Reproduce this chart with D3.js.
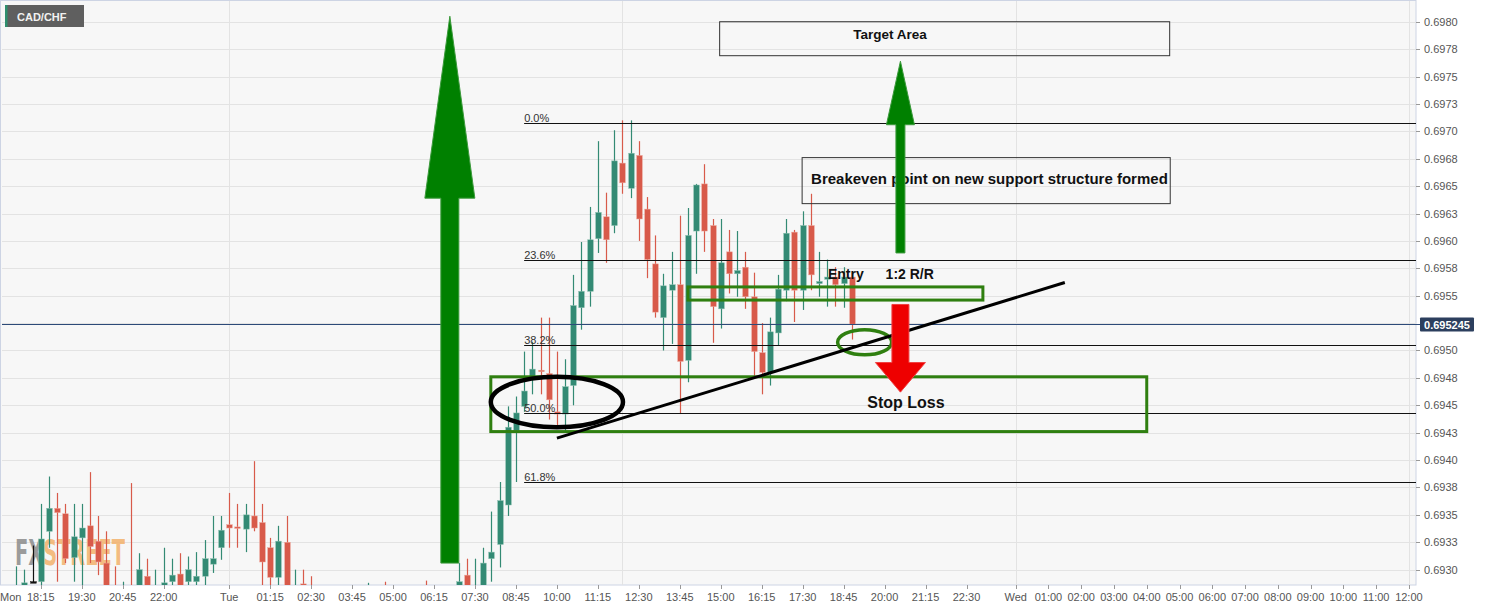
<!DOCTYPE html>
<html><head><meta charset="utf-8">
<script src="https://cdn.jsdelivr.net/npm/d3@7"></script>
<style>
body{margin:0;background:#fff;}
svg{display:block;font-family:"Liberation Sans",Arial,Helvetica,sans-serif;}
</style>
</head><body>
<svg id="chart" width="1493" height="610"></svg>
<script>
// ---------------- DATA ----------------
const candleTimes = [
 "2021-06-07 17:30","2021-06-07 17:45","2021-06-07 18:00","2021-06-07 18:15","2021-06-07 18:30","2021-06-07 18:45",
 "2021-06-07 19:00","2021-06-07 19:15","2021-06-07 19:30","2021-06-07 19:45","2021-06-07 20:00","2021-06-07 20:15",
 "2021-06-07 20:30","2021-06-07 20:45","2021-06-07 21:00","2021-06-07 21:15","2021-06-07 21:30","2021-06-07 21:45",
 "2021-06-07 22:00","2021-06-07 22:15","2021-06-07 22:30","2021-06-07 22:45","2021-06-07 23:00","2021-06-07 23:15",
 "2021-06-07 23:30","2021-06-07 23:45",
 "2021-06-08 00:00","2021-06-08 00:15","2021-06-08 00:30","2021-06-08 00:45","2021-06-08 01:00","2021-06-08 01:15",
 "2021-06-08 01:30","2021-06-08 01:45","2021-06-08 02:00","2021-06-08 02:15","2021-06-08 02:30",
 "2021-06-08 04:15","2021-06-08 04:45","2021-06-08 06:00",
 "2021-06-08 07:00","2021-06-08 07:15","2021-06-08 07:30","2021-06-08 07:45","2021-06-08 08:00","2021-06-08 08:15",
 "2021-06-08 08:30","2021-06-08 08:45","2021-06-08 09:00","2021-06-08 09:15","2021-06-08 09:30","2021-06-08 09:45",
 "2021-06-08 10:00","2021-06-08 10:15","2021-06-08 10:30","2021-06-08 10:45","2021-06-08 11:00","2021-06-08 11:15",
 "2021-06-08 11:30","2021-06-08 11:45","2021-06-08 12:00","2021-06-08 12:15","2021-06-08 12:30","2021-06-08 12:45",
 "2021-06-08 13:00","2021-06-08 13:15","2021-06-08 13:30","2021-06-08 13:45","2021-06-08 14:00","2021-06-08 14:15",
 "2021-06-08 14:30","2021-06-08 14:45","2021-06-08 15:00","2021-06-08 15:15","2021-06-08 15:30","2021-06-08 15:45",
 "2021-06-08 16:00","2021-06-08 16:15","2021-06-08 16:30","2021-06-08 16:45","2021-06-08 17:00","2021-06-08 17:15",
 "2021-06-08 17:30","2021-06-08 17:45","2021-06-08 18:00","2021-06-08 18:15","2021-06-08 18:30","2021-06-08 18:45",
 "2021-06-08 19:00"
];
const openV = [
 0.69273,0.69280,0.69289,0.69289,0.69335,0.69356,
 0.69351,0.69311,0.69329,0.69340,0.69326,0.69306,
 0.69282,0.69275,0.69282,0.69280,0.69294,0.69275,
 0.69284,0.69289,0.69296,0.69289,0.69289,0.69294,
 0.69305,0.69320,
 0.69341,0.69339,0.69337,0.69349,0.69343,0.69320,
 0.69293,0.69325,0.69275,0.69287,0.69282,
 0.69275,0.69282,0.69282,
 0.69280,0.69295,0.69275,0.69280,0.69310,0.69323,
 0.69359,0.69427,0.69449,0.69476,0.69482,0.69479,
 0.69444,0.69442,0.69468,0.69539,0.69554,0.69602,
 0.69622,0.69614,0.69671,0.69648,0.69678,0.69629,
 0.69579,0.69530,0.69555,0.69560,0.69491,0.69609,
 0.69652,0.69614,0.69538,0.69590,0.69570,0.69576,
 0.69549,0.69498,0.69480,0.69516,0.69555,0.69608,
 0.69555,0.69614,0.69561,0.69565,0.69567,0.69561,
 0.69567
];
const highV = [
 0.69303,0.69300,0.69322,0.69360,0.69385,0.69370,
 0.69360,0.69360,0.69360,0.69389,0.69349,0.69335,
 0.69303,0.69289,0.69379,0.69315,0.69310,0.69300,
 0.69320,0.69310,0.69315,0.69312,0.69316,0.69327,
 0.69349,0.69349,
 0.69370,0.69360,0.69360,0.69399,0.69360,0.69329,
 0.69340,0.69349,0.69300,0.69300,0.69294,
 0.69288,0.69289,0.69290,
 0.69306,0.69310,0.69310,0.69320,0.69353,0.69380,
 0.69449,0.69458,0.69499,0.69508,0.69530,0.69530,
 0.69499,0.69492,0.69569,0.69599,0.69631,0.69691,
 0.69644,0.69701,0.69710,0.69710,0.69691,0.69640,
 0.69605,0.69570,0.69590,0.69623,0.69630,0.69652,
 0.69670,0.69620,0.69620,0.69610,0.69609,0.69590,
 0.69571,0.69525,0.69530,0.69569,0.69620,0.69610,
 0.69627,0.69643,0.69590,0.69583,0.69576,0.69576,
 0.69571
];
const lowV = [
 0.69270,0.69275,0.69288,0.69280,0.69320,0.69289,
 0.69306,0.69289,0.69280,0.69306,0.69295,0.69275,
 0.69270,0.69270,0.69270,0.69275,0.69275,0.69270,
 0.69278,0.69284,0.69275,0.69282,0.69282,0.69282,
 0.69297,0.69309,
 0.69320,0.69320,0.69316,0.69335,0.69282,0.69282,
 0.69282,0.69275,0.69270,0.69278,0.69270,
 0.69270,0.69272,0.69270,
 0.69275,0.69275,0.69270,0.69275,0.69289,0.69302,
 0.69349,0.69380,0.69444,0.69460,0.69460,0.69437,
 0.69430,0.69425,0.69450,0.69519,0.69540,0.69589,
 0.69580,0.69607,0.69643,0.69639,0.69600,0.69566,
 0.69530,0.69500,0.69506,0.69442,0.69471,0.69570,
 0.69590,0.69507,0.69520,0.69552,0.69549,0.69538,
 0.69475,0.69460,0.69468,0.69505,0.69545,0.69526,
 0.69537,0.69555,0.69549,0.69540,0.69540,0.69539,
 0.69510
];
const closeV = [
 0.69280,0.69288,0.69289,0.69328,0.69356,0.69352,
 0.69310,0.69330,0.69338,0.69321,0.69307,0.69280,
 0.69275,0.69282,0.69276,0.69300,0.69280,0.69282,
 0.69288,0.69295,0.69280,0.69300,0.69294,0.69310,
 0.69310,0.69336,
 0.69338,0.69338,0.69350,0.69338,0.69307,0.69293,
 0.69326,0.69280,0.69282,0.69282,0.69276,
 0.69280,0.69278,0.69276,
 0.69289,0.69280,0.69282,0.69306,0.69316,0.69363,
 0.69430,0.69443,0.69463,0.69483,0.69481,0.69455,
 0.69442,0.69467,0.69541,0.69554,0.69601,0.69626,
 0.69601,0.69673,0.69653,0.69680,0.69620,0.69583,
 0.69535,0.69559,0.69560,0.69490,0.69605,0.69651,
 0.69609,0.69540,0.69580,0.69570,0.69573,0.69549,
 0.69499,0.69480,0.69517,0.69556,0.69607,0.69555,
 0.69614,0.69569,0.69563,0.69567,0.69560,0.69567,
 0.69524
];

const xDomain = ["2021-06-07 17:04", "2021-06-09 12:13"];
const yDomain = [0.69286, 0.69818];

const xTickTimes = [
 "2021-06-07 18:15","2021-06-07 19:30","2021-06-07 20:45","2021-06-07 22:00","2021-06-08 00:00",
 "2021-06-08 01:15","2021-06-08 02:30","2021-06-08 03:45","2021-06-08 05:00","2021-06-08 06:15",
 "2021-06-08 07:30","2021-06-08 08:45","2021-06-08 10:00","2021-06-08 11:15","2021-06-08 12:30",
 "2021-06-08 13:45","2021-06-08 15:00","2021-06-08 16:15","2021-06-08 17:30","2021-06-08 18:45",
 "2021-06-08 20:00","2021-06-08 21:15","2021-06-08 22:30","2021-06-09 00:00","2021-06-09 01:00",
 "2021-06-09 02:00","2021-06-09 03:00","2021-06-09 04:00","2021-06-09 05:00","2021-06-09 06:00",
 "2021-06-09 07:00","2021-06-09 08:00","2021-06-09 09:00","2021-06-09 10:00","2021-06-09 11:00",
 "2021-06-09 12:00"
];
const xTickLabels = [
 "18:15","19:30","20:45","22:00","Tue","01:15","02:30","03:45","05:00","06:15","07:30","08:45",
 "10:00","11:15","12:30","13:45","15:00","16:15","17:30","18:45","20:00","21:15","22:30","Wed",
 "01:00","02:00","03:00","04:00","05:00","06:00","07:00","08:00","09:00","10:00","11:00","12:00"
];
const firstDayLabel = "Mon";
const vGridTimes = ["2021-06-08 00:00","2021-06-08 12:00","2021-06-09 00:00","2021-06-09 12:00"];

// 0.69525 tick is hidden behind the live price label in the reference
const yTickValues = [0.6930,0.69325,0.6935,0.69375,0.6940,0.69425,0.6945,0.69475,0.6950,0.6955,
 0.69575,0.6960,0.69625,0.6965,0.69675,0.6970,0.69725,0.6975,0.69775,0.6980];
const yTickLabels = ["0.6930","0.6933","0.6935","0.6938","0.6940","0.6943","0.6945","0.6948","0.6950","0.6955",
 "0.6958","0.6960","0.6963","0.6965","0.6968","0.6970","0.6973","0.6975","0.6978","0.6980"];
const yGridValues = [0.6930,0.69325,0.6935,0.69375,0.6940,0.69425,0.6945,0.69475,0.6950,0.69525,0.6955,
 0.69575,0.6960,0.69625,0.6965,0.69675,0.6970,0.69725,0.6975,0.69775,0.6980];

const symbol = "CAD/CHF";
const currentPrice = 0.695245;
const currentPriceLabel = "0.695245";

const fibHigh = 0.697075, fibLow = 0.691776;
const fibLevels = [0, 0.236, 0.382, 0.5, 0.618];
const fibLabels = ["0.0%", "23.6%", "38.2%", "50.0%", "61.8%"];
const fibStart = "2021-06-08 09:00";

// annotation boxes: [t0, t1, pTop, pBottom]
const targetBox = ["2021-06-08 14:58", "2021-06-09 04:42", 0.69800, 0.69769];
const breakevenBox = ["2021-06-08 17:29", "2021-06-09 04:43", 0.69676, 0.69634];
const entryBox = ["2021-06-08 14:00", "2021-06-08 23:00", 0.69558, 0.69546];
const stopBox = ["2021-06-08 07:59", "2021-06-09 04:00", 0.69476, 0.69426];
const blackEllipse = ["2021-06-08 07:59", "2021-06-08 12:01", 0.69476, 0.69430];
const greenEllipse = ["2021-06-08 18:34", "2021-06-08 20:13", 0.69519, 0.69496];
const trendLine = [["2021-06-08 10:00", 0.69420], ["2021-06-09 01:30", 0.69562]];
// arrows: [time, tip price, head-base price, tail price]
const bigUpArrow = ["2021-06-08 06:44", 0.69805, 0.69639, 0.69306];
const smallUpArrow = ["2021-06-08 20:29", 0.69764, 0.69706, 0.69589];
const downArrow = ["2021-06-08 20:29", 0.69462, 0.69489, 0.69542];
const annotationTexts = [
  {text: "Target Area", t: "2021-06-08 20:10", p: 0.69788, size: 13.5},
  {text: "Breakeven point on new support structure formed", t: "2021-06-08 23:12", p: 0.696567, size: 15},
  {text: "Entry", t: "2021-06-08 18:49", p: 0.69570, size: 14},
  {text: "1:2 R/R", t: "2021-06-08 20:46", p: 0.69570, size: 14},
  {text: "Stop Loss", t: "2021-06-08 20:39", p: 0.694524, size: 16}
];

// ---------------- DRAW ----------------
const parse = d3.timeParse("%Y-%m-%d %H:%M");
const svg = d3.select("#chart");
const L = 2, R = 1416, T = 1, B = 585;
const x = d3.scaleTime().domain(xDomain.map(parse)).range([L, R]);
const y = d3.scaleLinear().domain(yDomain).range([B, T + 1]);

const GREEN = "#338a74", RED = "#d85a4a";
const ANN_GREEN = "#2f7f10";

const candles = candleTimes.map((t, i) => ({
  t: parse(t), o: openV[i], h: highV[i], l: lowV[i], c: closeV[i]
}));

svg.append("rect").attr("x", 0.5).attr("y", 0.5).attr("width", R - 0.5).attr("height", B - 0.5)
  .attr("fill", "#f7f7f7").attr("stroke", "#cdd4e4");

svg.append("defs").append("clipPath").attr("id", "plot")
  .append("rect").attr("x", 1).attr("y", 1).attr("width", R - 1).attr("height", B - 1);

const plot = svg.append("g").attr("clip-path", "url(#plot)");

// grid
plot.append("g").selectAll("line").data(yGridValues).join("line")
  .attr("x1", L).attr("x2", R)
  .attr("y1", d => Math.round(y(d)) + 0.5).attr("y2", d => Math.round(y(d)) + 0.5)
  .attr("stroke", "#e3e3e3").attr("stroke-width", 1);
plot.append("g").selectAll("line").data(vGridTimes.map(parse)).join("line")
  .attr("x1", d => Math.round(x(d)) + 0.5).attr("x2", d => Math.round(x(d)) + 0.5)
  .attr("y1", T).attr("y2", B)
  .attr("stroke", "#e3e3e3").attr("stroke-width", 1);

// watermark
const wm = plot.append("text").attr("x", 15).attr("y", 565)
  .attr("font-family", "'DejaVu Sans Condensed','Liberation Sans Narrow',sans-serif")
  .attr("font-weight", "bold").attr("font-size", 36).attr("opacity", 0.85)
  .attr("textLength", 110).attr("lengthAdjust", "spacingAndGlyphs");
wm.append("tspan").attr("fill", "#8c8c8c").text("FX");
wm.append("tspan").attr("fill", "#f3b26c").text("STREET");

// candles
const bw = 5.6;
const cg = plot.append("g");
cg.selectAll("line.wick").data(candles).join("line").attr("class", "wick")
  .attr("x1", d => Math.round(x(d.t)) + 0.5).attr("x2", d => Math.round(x(d.t)) + 0.5)
  .attr("y1", d => y(d.h)).attr("y2", d => y(d.l))
  .attr("stroke", d => d.c > d.o ? GREEN : (d.c < d.o ? RED : "#111")).attr("stroke-width", 1.2);
cg.selectAll("rect.body").data(candles).join("rect").attr("class", "body")
  .attr("x", d => Math.round(x(d.t)) + 0.5 - bw / 2)
  .attr("width", bw)
  .attr("y", d => y(Math.max(d.o, d.c)))
  .attr("height", d => Math.max(1.5, Math.abs(y(d.o) - y(d.c))))
  .attr("fill", d => d.c > d.o ? GREEN : (d.c < d.o ? RED : "#111"))
  .attr("stroke", d => d.c > d.o ? "#8cc0b0" : (d.c < d.o ? "#eea79c" : "#111"))
  .attr("stroke-width", 0.5);

// fib lines
const fg = plot.append("g");
const fibData = fibLevels.map((r, i) => ({p: fibHigh - r * (fibHigh - fibLow), label: fibLabels[i]}));
fg.selectAll("line").data(fibData).join("line")
  .attr("x1", x(parse(fibStart))).attr("x2", R)
  .attr("y1", d => Math.round(y(d.p)) + 0.5).attr("y2", d => Math.round(y(d.p)) + 0.5)
  .attr("stroke", "#111").attr("stroke-width", 1);
fg.selectAll("text").data(fibData).join("text")
  .attr("x", x(parse(fibStart))).attr("y", d => Math.round(y(d.p)) - 1.5)
  .attr("font-size", 11).attr("fill", "#333").text(d => d.label);

// current price line
plot.append("line").attr("x1", L).attr("x2", R)
  .attr("y1", Math.round(y(currentPrice)) + 0.5).attr("y2", Math.round(y(currentPrice)) + 0.5)
  .attr("stroke", "#2d4a78").attr("stroke-width", 1);

// annotations
const ag = plot.append("g");
function boxRect(b, stroke, sw) {
  const x0 = x(parse(b[0])), x1 = x(parse(b[1])), y0 = y(b[2]), y1 = y(b[3]);
  ag.append("rect").attr("x", x0).attr("y", y0).attr("width", x1 - x0).attr("height", y1 - y0)
    .attr("fill", "none").attr("stroke", stroke).attr("stroke-width", sw);
}
boxRect(targetBox, "#333", 1);
boxRect(breakevenBox, "#333", 1);
boxRect(entryBox, ANN_GREEN, 3);
boxRect(stopBox, ANN_GREEN, 3);

function ell(e, stroke, sw) {
  const x0 = x(parse(e[0])), x1 = x(parse(e[1])), y0 = y(e[2]), y1 = y(e[3]);
  ag.append("ellipse").attr("cx", (x0 + x1) / 2).attr("cy", (y0 + y1) / 2)
    .attr("rx", (x1 - x0) / 2).attr("ry", (y1 - y0) / 2)
    .attr("fill", "none").attr("stroke", stroke).attr("stroke-width", sw);
}
ell(blackEllipse, "#000", 4.5);
ell(greenEllipse, ANN_GREEN, 3.5);

ag.append("line")
  .attr("x1", x(parse(trendLine[0][0]))).attr("y1", y(trendLine[0][1]))
  .attr("x2", x(parse(trendLine[1][0]))).attr("y2", y(trendLine[1][1]))
  .attr("stroke", "#000").attr("stroke-width", 3);

function arrow(a, headHalf, shaftHalf, fill, stroke) {
  const cx = x(parse(a[0])), tip = y(a[1]), base = y(a[2]), tail = y(a[3]);
  const pts = [[cx, tip], [cx + headHalf, base], [cx + shaftHalf, base], [cx + shaftHalf, tail],
    [cx - shaftHalf, tail], [cx - shaftHalf, base], [cx - headHalf, base]];
  ag.append("path").attr("d", d3.line()(pts) + "Z").attr("fill", fill)
    .attr("stroke", stroke).attr("stroke-width", 1);
}

ag.selectAll("text.ann").data(annotationTexts).join("text").attr("class", "ann")
  .attr("x", d => x(parse(d.t))).attr("y", d => y(d.p))
  .attr("text-anchor", "middle").attr("dominant-baseline", "central")
  .attr("font-size", d => d.size).attr("font-weight", "bold").attr("fill", "#111")
  .text(d => d.text);

arrow(bigUpArrow, 25, 9, "#008000", "#3c9a3c");
arrow(smallUpArrow, 14, 4.5, "#008000", "#3c9a3c");
arrow(downArrow, 25, 8.5, "#ee0000", "#f04040");

// axes
const axG = svg.append("g");
const xt = xTickTimes.map(parse);
axG.selectAll("line.xt").data(xt).join("line").attr("class", "xt")
  .attr("x1", d => Math.round(x(d)) + 0.5).attr("x2", d => Math.round(x(d)) + 0.5)
  .attr("y1", B).attr("y2", B + 4).attr("stroke", "#999");
axG.selectAll("text.xl").data(xt).join("text").attr("class", "xl")
  .attr("x", d => x(d)).attr("y", 601).attr("text-anchor", "middle")
  .attr("font-size", 11).attr("fill", "#555").text((d, i) => xTickLabels[i]);
axG.append("text").attr("x", 0).attr("y", 601).attr("font-size", 11).attr("fill", "#555").text(firstDayLabel);

axG.selectAll("line.yt").data(yTickValues).join("line").attr("class", "yt")
  .attr("x1", R).attr("x2", R + 4)
  .attr("y1", d => Math.round(y(d)) + 0.5).attr("y2", d => Math.round(y(d)) + 0.5).attr("stroke", "#999");
axG.selectAll("text.yl").data(yTickValues).join("text").attr("class", "yl")
  .attr("x", R + 8).attr("y", d => y(d)).attr("dominant-baseline", "central")
  .attr("font-size", 11).attr("fill", "#555").text((d, i) => yTickLabels[i]);

// current price label
const cpY = Math.round(y(currentPrice)) + 0.5;
axG.append("line").attr("x1", R).attr("x2", R + 4).attr("y1", cpY).attr("y2", cpY).attr("stroke", "#2d4a78");
axG.append("rect").attr("x", R + 4).attr("y", cpY - 7).attr("width", 54).attr("height", 14)
  .attr("fill", "#2c3f5e").attr("rx", 1);
axG.append("text").attr("x", R + 31).attr("y", cpY).attr("text-anchor", "middle")
  .attr("dominant-baseline", "central").attr("font-size", 11).attr("font-weight", "bold")
  .attr("fill", "#fff").text(currentPriceLabel);

// symbol badge
svg.append("rect").attr("x", 5).attr("y", 5).attr("width", 79).attr("height", 22).attr("fill", "#5f5f5f");
svg.append("rect").attr("x", 5).attr("y", 5).attr("width", 2.5).attr("height", 22).attr("fill", "#2e8f6e");
svg.append("text").attr("x", 17).attr("y", 16.5).attr("dominant-baseline", "central")
  .attr("font-size", 11).attr("font-weight", "bold").attr("fill", "#f2f2f2").text(symbol);
</script>
</body></html>
